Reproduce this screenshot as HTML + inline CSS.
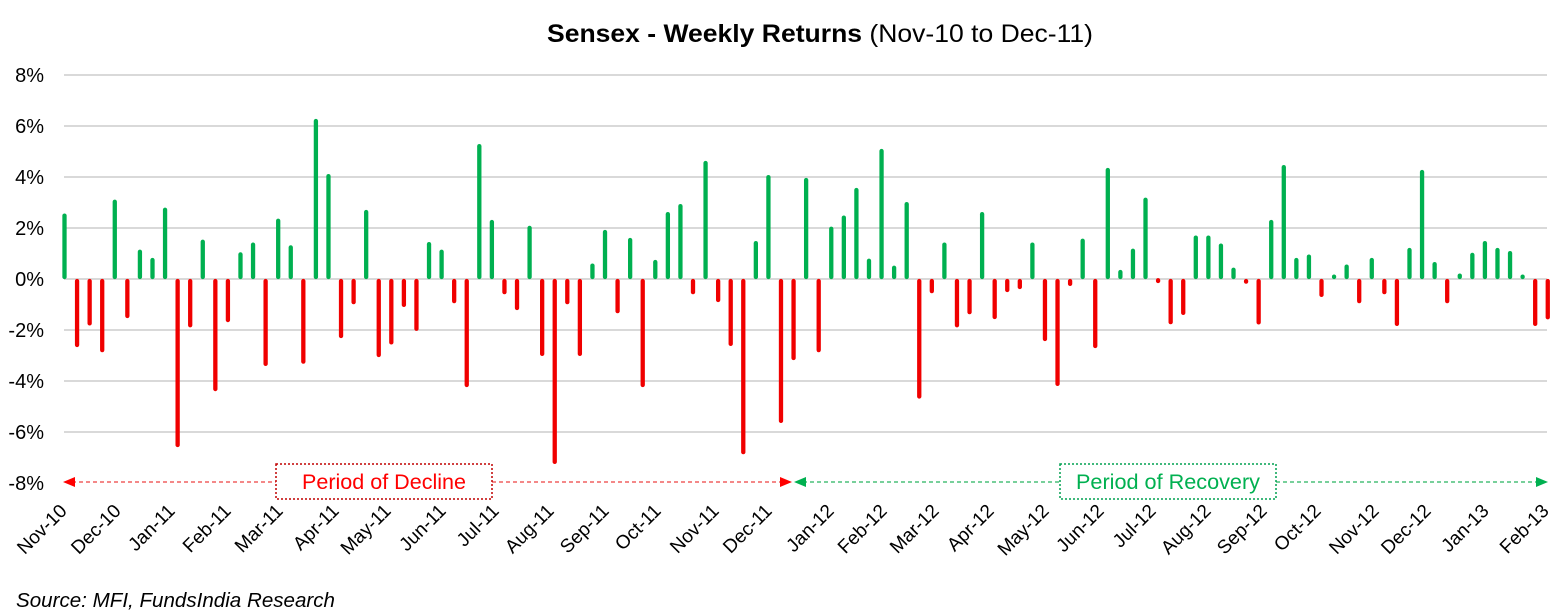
<!DOCTYPE html>
<html><head><meta charset="utf-8"><style>
html,body{margin:0;padding:0;background:#fff}
svg{display:block;font-family:"Liberation Sans",Calibri,sans-serif}
</style></head><body>
<svg width="1562" height="615" viewBox="0 0 1562 615" xmlns="http://www.w3.org/2000/svg">
<text x="547" y="42" textLength="546" lengthAdjust="spacingAndGlyphs" font-size="25" fill="#000"><tspan font-weight="bold">Sensex - Weekly Returns</tspan> (Nov-10 to Dec-11)</text>
<g stroke="#d9d9d9" stroke-width="2">
<line x1="64" x2="1547" y1="75" y2="75"/><line x1="64" x2="1547" y1="126" y2="126"/>
<line x1="64" x2="1547" y1="177" y2="177"/><line x1="64" x2="1547" y1="228" y2="228"/>
<line x1="64" x2="1547" y1="279" y2="279"/><line x1="64" x2="1547" y1="330" y2="330"/>
<line x1="64" x2="1547" y1="381" y2="381"/><line x1="64" x2="1547" y1="432" y2="432"/>
</g>
<g font-size="20" fill="#000" text-anchor="end">
<text x="44" y="82">8%</text><text x="44" y="133">6%</text><text x="44" y="184">4%</text>
<text x="44" y="235">2%</text><text x="44" y="286">0%</text><text x="44" y="337">-2%</text>
<text x="44" y="388">-4%</text><text x="44" y="439">-6%</text><text x="44" y="490">-8%</text>
</g>
<g id="bars" stroke-width="4.3" stroke-linecap="round"></g>
<g stroke-width="1.5" stroke-dasharray="4,3">
<line x1="72" y1="482" x2="276" y2="482" stroke="#f06060"/>
<line x1="492" y1="482" x2="782" y2="482" stroke="#f06060"/>
<line x1="803" y1="482" x2="1060" y2="482" stroke="#4cc07a"/>
<line x1="1276" y1="482" x2="1538" y2="482" stroke="#4cc07a"/>
</g>
<polygon points="63,482 75,477 75,487" fill="#f00"/>
<polygon points="792,482 780,477 780,487" fill="#f00"/>
<polygon points="794,482 806,477 806,487" fill="#00b050"/>
<polygon points="1548,482 1536,477 1536,487" fill="#00b050"/>
<rect x="276" y="464" width="216" height="35" fill="#fff" stroke="#c00000" stroke-width="1.5" stroke-dasharray="2,2"/>
<rect x="1060" y="464" width="216" height="35" fill="#fff" stroke="#00a050" stroke-width="1.5" stroke-dasharray="2,2"/>
<text x="384" y="489" text-anchor="middle" font-size="21" textLength="164" lengthAdjust="spacingAndGlyphs" fill="#f00">Period of Decline</text>
<text x="1168" y="489" text-anchor="middle" font-size="21" textLength="184" lengthAdjust="spacingAndGlyphs" fill="#00b050">Period of Recovery</text>
<g id="xl" font-size="19" fill="#000" text-anchor="end"></g>
<text x="16" y="607" font-size="20.5" font-style="italic" textLength="319" lengthAdjust="spacingAndGlyphs" fill="#000">Source: MFI, FundsIndia Research</text>
</svg>
<script>
var v=[2.47,-2.57,-1.73,-2.77,3.01,-1.44,1.06,0.74,2.70,-6.47,-1.8,1.45,-4.29,-1.6,0.96,1.34,-3.31,2.27,1.23,-3.22,6.16,4.01,-2.22,-0.9,2.61,-2.96,-2.47,-1.01,-1.94,
1.36,1.06,-0.86,-4.13,5.18,2.22,-0.51,-1.13,1.99,-2.92,-7.13,-0.9,-2.92,0.52,1.83,-1.25,1.52,-4.13,0.66,2.53,2.84,-0.51,4.52,-0.82,-2.53,-6.75,1.40,3.97,-5.53,-3.08,3.86,-2.77,
1.96,2.39,3.47,0.71,4.99,0.44,2.92,-4.58,-0.47,1.34,-1.8,-1.29,2.53,-1.48,-0.43,-0.31,1.34,-2.34,-4.09,-0.19,1.49,-2.61,4.25,0.27,1.1,3.09,-0.05,-1.68,-1.32,1.61,1.61,1.3,
0.36,-0.1,-1.69,2.22,4.36,0.74,0.87,-0.62,0.09,0.48,-0.86,0.74,-0.51,-1.75,1.13,4.17,0.58,-0.86,0.13,0.94,1.40,1.13,1.01,0.09,-1.75,-1.49];
var ns="http://www.w3.org/2000/svg",g=document.getElementById("bars");
for(var i=0;i<v.length;i++){var x=64.5+12.57*i,y=279-v[i]*25.65;
var l=document.createElementNS(ns,"line");l.setAttribute("x1",x);l.setAttribute("x2",x);
l.setAttribute("y1",v[i]>0?277:281);l.setAttribute("y2",y);l.setAttribute("stroke",v[i]>0?"#00b050":"#f00000");g.appendChild(l);}
var lab=["Nov-10","Dec-10","Jan-11","Feb-11","Mar-11","Apr-11","May-11","Jun-11","Jul-11","Aug-11","Sep-11","Oct-11","Nov-11","Dec-11","Jan-12","Feb-12","Mar-12","Apr-12","May-12","Jun-12","Jul-12","Aug-12","Sep-12","Oct-12","Nov-12","Dec-12","Jan-13","Feb-13"];
var xs=[68,122,176,232,284,340,392,447,500,555,610,662,720,773,835,888,940,995,1050,1105,1157,1212,1268,1322,1380,1432,1490,1550];
var xl=document.getElementById("xl");
for(var j=0;j<lab.length;j++){var t=document.createElementNS(ns,"text");t.textContent=lab[j];
t.setAttribute("transform","translate("+(xs[j])+",512) rotate(-45)");xl.appendChild(t);}
</script>
</body></html>
